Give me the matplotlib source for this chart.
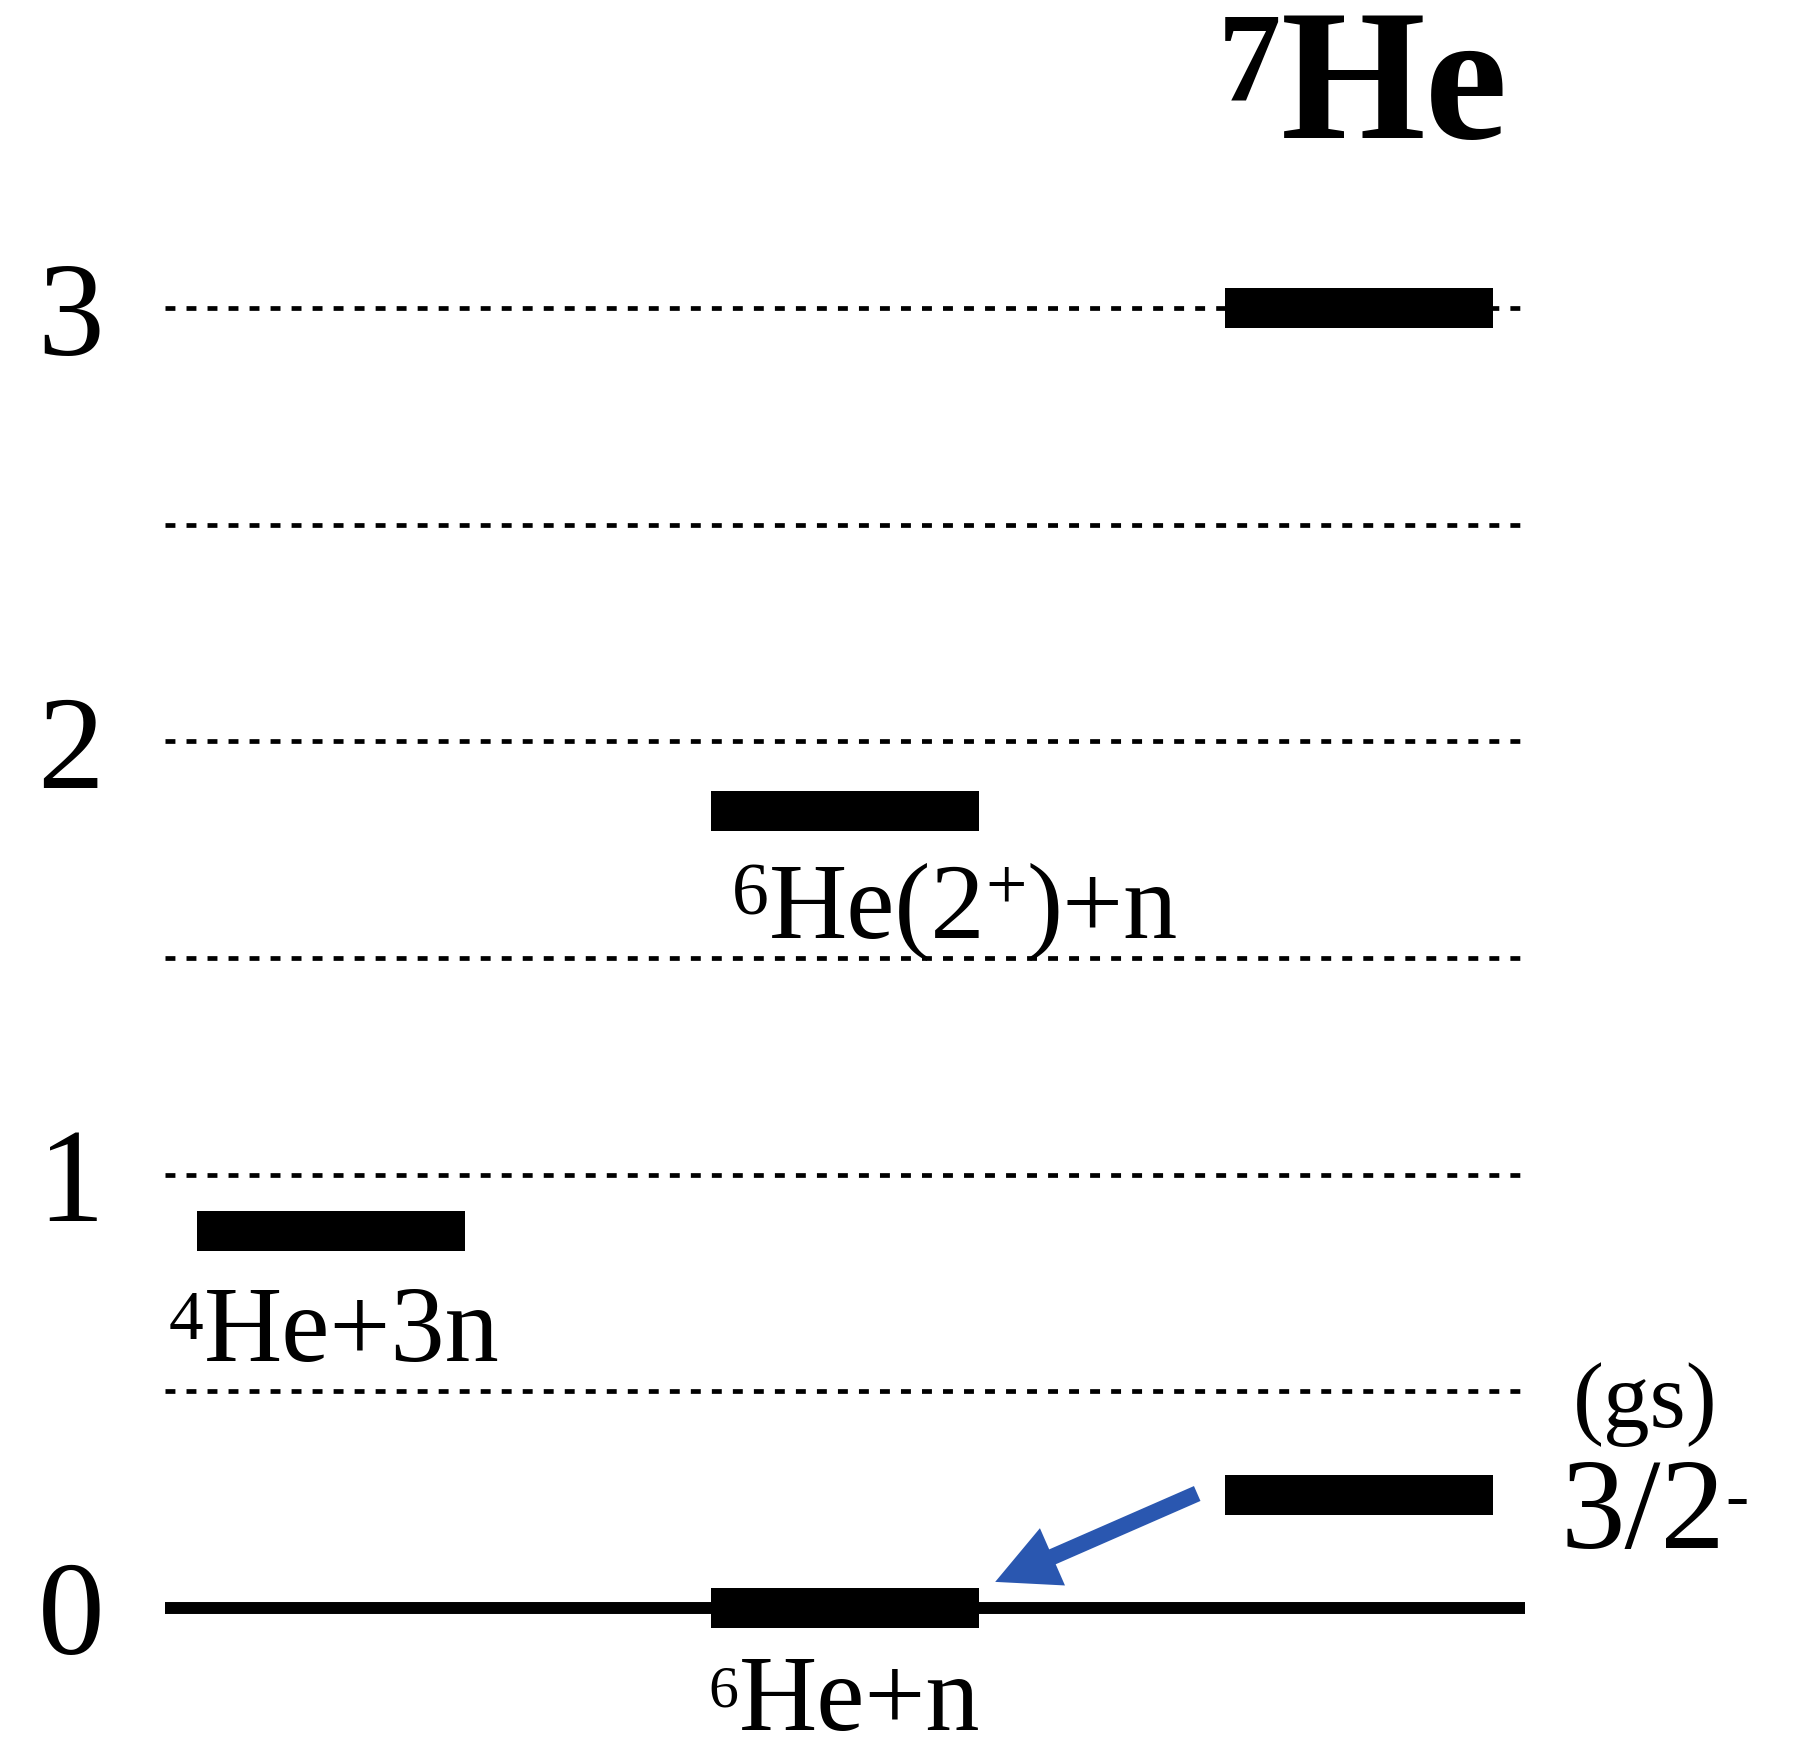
import matplotlib
matplotlib.use("Agg")
import matplotlib.pyplot as plt
import matplotlib.transforms as mtransforms

plt.rcParams['font.family'] = ['Liberation Serif', 'DejaVu Serif']

# energy levels (MeV, relative to 6He+n), column index of each bar
level_cols = [0, 1, 1, 2, 2]
level_vals = [0.87, 1.84, 0.0, 3.0, 0.26]
grid_vals = [0.5, 1.0, 1.5, 2.0, 2.5, 3.0]
tick_vals = [0, 1, 2, 3]
tick_labels = ['0', '1', '2', '3']

# labels as (text, size, rise) pieces
lab_4he = [('4', 50, 16), ('He+3n', 78, 0)]
lab_6he2 = [('6', 53, 17), ('He(2', 78, 0), ('+', 53, 21), (')+n', 78, 0)]
lab_6he = [('6', 43, 17), ('He+n', 78, 0)]
lab_7he = [('7', 91, 27), ('He', 134, 0)]
lab_jpi = [('3/2', 93, 0), ('-', 50, 22)]

W, H = 1793, 1750
fig = plt.figure(figsize=(W / 100, H / 100), dpi=100)
ax = fig.add_axes([165 / W, 0, 1 - 165 / W, 1])
ax.set_xlim(-0.323, 2.844)
ax.set_ylim(-0.328, 3.711)
for s in ax.spines.values():
    s.set_visible(False)
ax.set_xticks([])
ax.set_yticks(tick_vals)
ax.set_yticklabels(tick_labels)
ax.tick_params(axis='y', length=0, pad=67.7, labelsize=96)
for lbl in ax.get_yticklabels():
    lbl.set_ha('center')

ax.hlines(grid_vals, -0.323, 2.315, colors='black', lw=3.4,
          linestyles=(0, (2.1, 2.35)), zorder=1)
ax.plot([-0.323, 2.322], [0, 0], color='black', lw=8.6,
        solid_capstyle='butt', zorder=2)

bar_w = 0.52
ax.barh(level_vals, bar_w, left=[c - bar_w / 2 for c in level_cols],
        height=0.092, color='black', zorder=3)

ax.annotate('', xy=(1.292, 0.06), xytext=(1.685, 0.264),
            arrowprops=dict(arrowstyle='simple,head_length=0.5,head_width=0.5,tail_width=0.13',
                            mutation_scale=90, color='#2A57B0', lw=0,
                            shrinkA=0, shrinkB=0), zorder=4)

renderer = fig.canvas.get_renderer()


def rich_text(x, y, parts, **kw):
    trans = ax.transData
    for s, size, rise in parts:
        t = ax.text(x, y, s, fontsize=size, ha='left', va='baseline',
                    transform=mtransforms.offset_copy(trans, fig=fig, y=rise, units='points'),
                    **kw)
        w = t.get_window_extent(renderer).width
        trans = mtransforms.offset_copy(trans, fig=fig, x=w, units='dots')


rich_text(-0.315, 0.570, lab_4he)
rich_text(0.780, 1.546, lab_6he2)
rich_text(0.735, -0.282, lab_6he)
rich_text(1.724, 3.393, lab_7he, fontweight='bold')
rich_text(2.392, 0.138, lab_jpi)
ax.text(2.416, 0.418, '(gs)', fontsize=67, ha='left', va='baseline')

fig.savefig('out.png', dpi=100)
